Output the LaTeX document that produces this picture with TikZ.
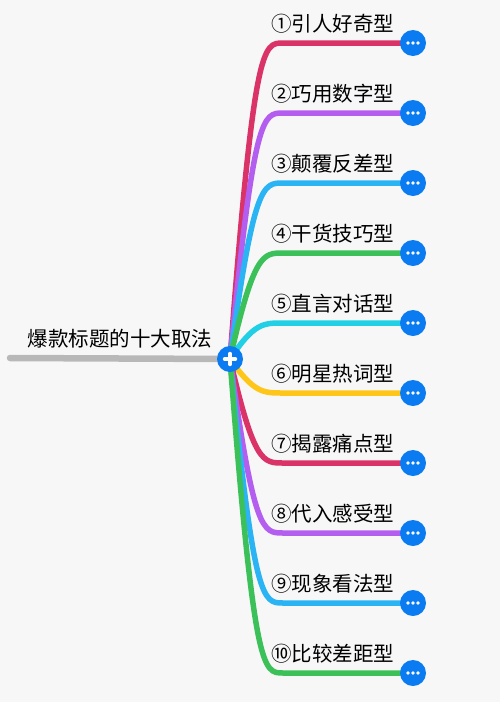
\documentclass[tikz,border=0pt]{standalone}
\usepackage{fontspec}
\setmainfont{Noto Sans CJK SC}
\usetikzlibrary{backgrounds,calc}
\definecolor{bg}{HTML}{F7F7F7}
\definecolor{cRed}{HTML}{D93368}
\definecolor{cPur}{HTML}{B45EF0}
\definecolor{cSky}{HTML}{2AB4F4}
\definecolor{cGrn}{HTML}{3CC15A}
\definecolor{cCya}{HTML}{22D0E6}
\definecolor{cYel}{HTML}{FFC61A}
\definecolor{cBlue}{HTML}{0B7BF2}
\definecolor{cGray}{HTML}{B8B8B8}
\begin{document}
\begin{tikzpicture}[x=1pt,y=-1pt,
  endball/.style={circle,fill=cBlue,minimum size=26pt,inner sep=0pt,
    path picture={\foreach \dx in {-5,0,5}
      \fill[white] ([xshift=\dx pt]path picture bounding box.center) circle (1.8pt);}},
  rootball/.style={circle,fill=cBlue,minimum size=26pt,inner sep=0pt,
    path picture={\draw[white,line width=3.4pt,line cap=round]
      ([xshift=-5.5pt]path picture bounding box.center) -- ([xshift=5.5pt]path picture bounding box.center)
      ([yshift=-5.5pt]path picture bounding box.center) -- ([yshift=5.5pt]path picture bounding box.center);}},
  branch/.style={line width=5.5pt,line cap=round},
  itemlabel/.style={anchor=west,inner sep=0pt,font=\fontsize{20.5}{20.5}\selectfont},
  rootlabel/.style={inner sep=0pt,font=\fontsize{20.5}{20.5}\selectfont}]
\useasboundingbox (0,0) rectangle (500,702);
\begin{scope}[on background layer]
  \fill[bg] (0,0) rectangle (500,702);
\end{scope}
\node[rootball] (r) at (230,359) {};
\node[rootlabel] (rt) at (120,339) {爆款标题的十大取法};
\coordinate (gstart) at (10,358);
\begin{scope}[on background layer]
  \draw[cGray,line width=6.5pt,line cap=round] (gstart) -- (r.center);
\end{scope}
\foreach \i/\y/\c/\t in {1/43/cRed/①引人好奇型,2/113/cPur/②巧用数字型,3/183/cSky/③颠覆反差型,
  4/253/cGrn/④干货技巧型,5/323/cCya/⑤直言对话型,6/393/cYel/⑥明星热词型,
  7/463/cRed/⑦揭露痛点型,8/533/cPur/⑧代入感受型,9/603/cSky/⑨现象看法型,10/673/cGrn/⑩比较差距型}{
  \node[endball] (e\i) at (413,\y) {};
  \node[itemlabel] (t\i) at (271,\y-19) {\t};
  \coordinate (k\i) at (283,\y);
  \begin{scope}[on background layer]
    \draw[branch,\c] (r.center) .. controls (254,\y) and (263,\y) .. (k\i) -- (e\i.center);
  \end{scope}
}
\end{tikzpicture}
\end{document}
